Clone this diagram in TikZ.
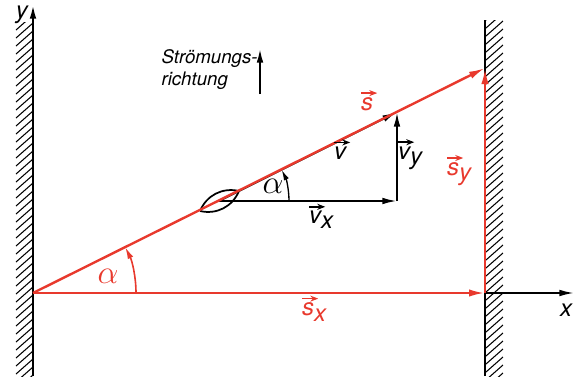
\documentclass[tikz,border=0pt]{standalone}
\usepackage{fontspec}
\setmainfont{TeX Gyre Heros}
\usetikzlibrary{arrows.meta}
\definecolor{flow-red}{HTML}{E8392D}

% small vector arrow over a letter
\newcommand{\vek}[1]{\tikz[baseline=(vk.base)]{\node[inner sep=0pt] (vk) {#1};
    \draw[overlay, line width=1.1pt, -{Stealth[length=6pt,width=4.5pt]}] ([yshift=3pt,xshift=0.5pt]vk.north west) -- ([yshift=3pt,xshift=3pt]vk.north east);}}
\newcommand{\idx}[1]{\raisebox{-0.22em}{#1}}

\begin{document}
\begin{tikzpicture}[x=0.75pt, y=-0.75pt,
    wall/.style={line width=1.8pt},
    hatch/.style={line width=0.8pt},
    redvec/.style={flow-red, line width=1.8pt, -{Latex[length=12pt,width=5.5pt]}},
    blackvec/.style={line width=1.5pt, -{Latex[length=11pt,width=5pt]}},
    lbl/.style={font=\fontsize{18}{20}\selectfont\itshape, inner sep=1pt},
    angl/.style={font=\fontsize{26}{26}\selectfont, inner sep=1pt},
]
    \useasboundingbox (0,0) rectangle (576,376);

    % Points
    \coordinate (O) at (33,293);
    \coordinate (P) at (485,293);
    \coordinate (Q) at (485,68);
    \coordinate (B) at (219,201);
    \coordinate (C) at (397,201);
    \coordinate (D) at (397,112);

    % Left wall with y axis
    \begin{scope}
        \clip (10,22) rectangle (34,376);
        \foreach \y in {22,30,...,400}
            \draw[hatch] (16,\y) -- (33,\y-15);
    \end{scope}
    \draw[wall, -{Latex[length=11pt,width=5pt]}] (33,376) -- (33,4);
    \node[lbl] (ylab) at (22,15) {y};

    % Right wall with x axis
    \begin{scope}
        \clip (486,20) rectangle (510,376);
        \foreach \y in {20,28,...,400}
            \draw[hatch] (486,\y) -- (503,\y-15);
    \end{scope}
    \draw[wall] (485,376) -- (485,20);
    \draw[line width=1.3pt, -{Latex[length=11pt,width=5pt]}] (P) -- (574,293);
    \node[lbl] (xlab) at (566,310) {x};

    % Flow direction
    \node[lbl, font=\fontsize{14}{16.5}\selectfont\itshape, align=left, anchor=west] (flow) at (160,70)
        {Strömungs-\\richtung};
    \draw[line width=1.6pt, -{Latex[length=11pt,width=5pt]}] (260,94) -- (260,48);

    % Boat
    \draw[line width=1.3pt] (200,211) to[bend left=40] (239,191) to[bend left=40] (200,211);

    % Velocity vectors
    \draw[blackvec] (B) -- (C);
    \draw[blackvec] (C) -- (D);
    \draw[blackvec] (B) -- (D);
    \draw[line width=1pt, -{Latex[length=8pt,width=4pt]}] ([xshift=52.5pt]B) arc[start angle=0, end angle=26.5, radius=52.5pt];
    \node[angl] (av) at (273,186) {$\alpha$};

    % Displacement vectors
    \draw[redvec] (O) -- (P);
    \draw[redvec] (P) -- (Q);
    \draw[redvec] (O) -- (Q);
    \draw[flow-red, line width=1.2pt, -{Latex[length=9pt,width=4.5pt]}] ([xshift=77.25pt]O) arc[start angle=0, end angle=26.5, radius=77.25pt];
    \node[angl, text=flow-red] (as) at (108,276) {$\alpha$};

    % Labels
    \node[lbl, text=flow-red] (slab) at (367,104) {\vek{s}};
    \node[lbl] (vlab) at (340,153) {\vek{v}};
    \node[lbl] (vylab) at (410,158) {\vek{v}\idx{y}};
    \node[lbl] (vxlab) at (321,220) {\vek{v}\idx{x}};
    \node[lbl, text=flow-red] (sylab) at (459,174) {\vek{s}\idx{y}};
    \node[lbl, text=flow-red] (sxlab) at (314,312) {\vek{s}\idx{x}};
\end{tikzpicture}
\end{document}
